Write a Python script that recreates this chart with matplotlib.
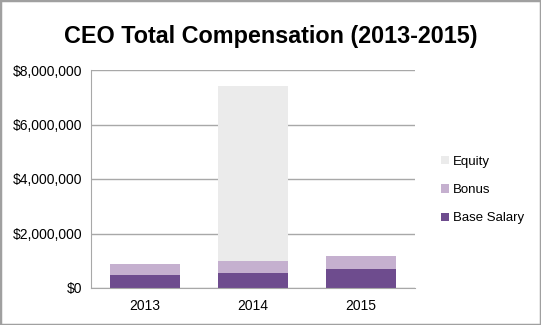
import matplotlib
matplotlib.use("Agg")
import matplotlib.pyplot as plt
from matplotlib.patches import Rectangle
from matplotlib.ticker import FuncFormatter

plt.rcParams['font.family'] = ['Liberation Sans', 'DejaVu Sans']

years = ["2013", "2014", "2015"]
base_salary = [480000, 560000, 700000]
bonus = [410000, 430000, 490000]
equity = [0, 6430000, 0]
series_names = ["Base Salary", "Bonus", "Equity"]
colors = ["#6E4C8E", "#C5B0CF", "#EBEBEB"]
yticks = [0, 2000000, 4000000, 6000000, 8000000]

W, H = 541, 325
fig = plt.figure(figsize=(W / 100, H / 100), dpi=100)
fig.patch.set_facecolor("white")
fig.patches.append(Rectangle((0, 0), 1, 1, transform=fig.transFigure,
                             fill=False, edgecolor="#A0A0A0", linewidth=2.5))

ax = fig.add_axes([91 / W, 1 - 288 / H, 324 / W, 218 / H])
x = list(range(len(years)))
bottoms = [0] * len(years)
for vals, name, c in zip([base_salary, bonus, equity], series_names, colors):
    ax.bar(x, vals, width=0.65, bottom=bottoms, color=c, label=name, zorder=2)
    bottoms = [b + v for b, v in zip(bottoms, vals)]

ax.set_xlim(-0.5, 2.5)
ax.set_ylim(0, 8000000)
ax.set_yticks(yticks)
ax.yaxis.set_major_formatter(FuncFormatter(lambda v, p: "${:,.0f}".format(v)))
ax.set_xticks(x)
ax.set_xticklabels(years)
ax.grid(axis="y", color="#A8A8A8", linewidth=1, zorder=0)
for s in ["top", "right"]:
    ax.spines[s].set_visible(False)
ax.spines["left"].set_color("#A8A8A8")
ax.spines["bottom"].set_color("#A8A8A8")
ax.tick_params(length=0, labelsize=10, colors="black", pad=6)
ax.tick_params(axis="x", pad=8)

handles, labels = ax.get_legend_handles_labels()
leg = fig.legend(handles[::-1], labels[::-1], loc="center left",
                 bbox_to_anchor=(441 / W, 1 - 190 / H), frameon=False,
                 borderpad=0, borderaxespad=0,
                 fontsize=9.5, handlelength=0.6, handleheight=0.6,
                 handletextpad=0.3, labelspacing=1.25)

fig.text(0.5, 1 - 36 / H, "CEO Total Compensation (2013-2015)",
         ha="center", va="center", fontsize=16.8, fontweight="bold")

fig.savefig("out.png", dpi=100)
